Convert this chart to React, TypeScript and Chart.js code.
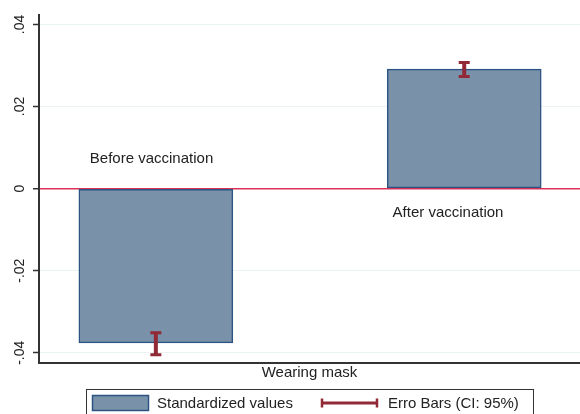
import React, { useEffect, useRef } from "react";
import { Chart, registerables } from "chart.js";

Chart.register(...registerables);

const categories = ["Before vaccination", "After vaccination"];
const barX = [21.6, 78.6];
const values = [-0.0376, 0.0291];
const errLow = [-0.0405, 0.0273];
const errHigh = [-0.0351, 0.0307];
const labelX = [20.8, 75.6];
const labelY = [0.0072, -0.006];
const yTicks = [-0.04, -0.02, 0, 0.02, 0.04];
const yTickLabels = ["-.04", "-.02", "0", ".02", ".04"];
const xTickValue = 50;
const xTickLabel = "Wearing mask";
const legendLabels = ["Standardized values", "Erro Bars (CI: 95%)"];

const FONT = "'Liberation Sans', Arial, sans-serif";
const BAR_FILL = "rgb(121,145,169)";
const BAR_BORDER = "rgb(44,84,130)";
const ERR_COLOR = "rgb(145,42,54)";
const ZERO_COLOR = "rgb(220,50,90)";
const GRID_COLOR = "rgb(234,242,242)";
const AXIS_COLOR = "#333";
const TEXT_COLOR = "#222";

const overlayPlugin = {
  id: "overlay",
  afterDatasetsDraw(chart: any) {
    const { ctx, scales } = chart;
    const xs = scales.x;
    const ys = scales.y;
    ctx.save();
    ctx.strokeStyle = ERR_COLOR;
    for (let i = 0; i < barX.length; i++) {
      const x = xs.getPixelForValue(barX[i]);
      const y1 = ys.getPixelForValue(errLow[i]);
      const y2 = ys.getPixelForValue(errHigh[i]);
      ctx.lineWidth = 4;
      ctx.beginPath();
      ctx.moveTo(x, y1);
      ctx.lineTo(x, y2);
      ctx.stroke();
      ctx.lineWidth = 3;
      ctx.beginPath();
      ctx.moveTo(x - 5.5, y1);
      ctx.lineTo(x + 5.5, y1);
      ctx.moveTo(x - 5.5, y2);
      ctx.lineTo(x + 5.5, y2);
      ctx.stroke();
    }
    ctx.fillStyle = TEXT_COLOR;
    ctx.font = `15px ${FONT}`;
    ctx.textAlign = "center";
    ctx.textBaseline = "middle";
    for (let i = 0; i < categories.length; i++) {
      ctx.fillText(categories[i], xs.getPixelForValue(labelX[i]), ys.getPixelForValue(labelY[i]));
    }
    ctx.restore();
  },
  afterDraw(chart: any) {
    const { ctx, scales } = chart;
    const ys = scales.y;
    ctx.save();
    ctx.fillStyle = TEXT_COLOR;
    ctx.font = `14px ${FONT}`;
    ctx.textAlign = "center";
    ctx.textBaseline = "middle";
    for (let i = 0; i < yTicks.length; i++) {
      const y = ys.getPixelForValue(yTicks[i]);
      ctx.save();
      ctx.translate(20.5, y);
      ctx.rotate(-Math.PI / 2);
      ctx.fillText(yTickLabels[i], 0, 0);
      ctx.restore();
    }
    ctx.strokeStyle = AXIS_COLOR;
    ctx.lineWidth = 1;
    ctx.strokeRect(86.5, 389.5, 447, 40);
    ctx.fillStyle = BAR_FILL;
    ctx.fillRect(92.5, 395.5, 56, 15);
    ctx.strokeStyle = BAR_BORDER;
    ctx.lineWidth = 1.5;
    ctx.strokeRect(92.5, 395.5, 56, 15);
    ctx.strokeStyle = ERR_COLOR;
    ctx.lineWidth = 3;
    ctx.beginPath();
    ctx.moveTo(321, 403);
    ctx.lineTo(378, 403);
    ctx.stroke();
    ctx.lineWidth = 2.5;
    ctx.beginPath();
    ctx.moveTo(322, 398.5);
    ctx.lineTo(322, 407.5);
    ctx.moveTo(377, 398.5);
    ctx.lineTo(377, 407.5);
    ctx.stroke();
    ctx.fillStyle = TEXT_COLOR;
    ctx.font = `15px ${FONT}`;
    ctx.textAlign = "left";
    ctx.textBaseline = "middle";
    ctx.fillText(legendLabels[0], 157, 404);
    ctx.fillText(legendLabels[1], 388, 404);
    ctx.restore();
  },
};

export default function App() {
  const ref = useRef<HTMLCanvasElement>(null);
  useEffect(() => {
    document.body.style.margin = "0";
    const canvas = ref.current!;
    const chart = new Chart(canvas, {
      type: "bar",
      data: {
        datasets: [
          {
            label: legendLabels[0],
            data: barX.map((x, i) => ({ x, y: values[i] })),
            backgroundColor: BAR_FILL,
            borderColor: BAR_BORDER,
            borderWidth: 1.5,
            borderSkipped: false,
            barThickness: 154,
          },
        ],
      },
      options: {
        responsive: false,
        animation: false,
        layout: { padding: { top: 15, left: 0, right: 0, bottom: 0 } },
        plugins: {
          legend: { display: false },
          tooltip: { enabled: false },
        },
        scales: {
          x: {
            type: "linear",
            min: 0,
            max: 100,
            offset: false,
            grid: { display: false, drawTicks: false, offset: false },
            border: { display: true, color: AXIS_COLOR, width: 2 },
            afterBuildTicks: (s: any) => {
              s.ticks = [{ value: xTickValue }];
            },
            afterFit: (s: any) => {
              s.height = 51;
            },
            ticks: {
              padding: 1,
              color: TEXT_COLOR,
              font: { family: FONT, size: 15 },
              maxRotation: 0,
              callback: () => xTickLabel,
            },
          },
          y: {
            type: "linear",
            min: -0.0425,
            max: 0.0423,
            afterBuildTicks: (s: any) => {
              s.ticks = yTicks.map((v) => ({ value: v }));
            },
            afterFit: (s: any) => {
              s.width = 39;
            },
            grid: {
              drawTicks: true,
              tickLength: 6,
              tickColor: AXIS_COLOR,
              tickWidth: 1.5,
              color: (c: any) => (c.tick && c.tick.value === 0 ? ZERO_COLOR : GRID_COLOR),
              lineWidth: (c: any) => (c.tick && c.tick.value === 0 ? 1.5 : 1),
            },
            border: { display: true, color: AXIS_COLOR, width: 2 },
            ticks: { display: false },
          },
        },
      },
      plugins: [overlayPlugin],
    } as any);
    return () => chart.destroy();
  }, []);
  return <canvas ref={ref} width={580} height={414} style={{ display: "block", width: 580, height: 414 }} />;
}
